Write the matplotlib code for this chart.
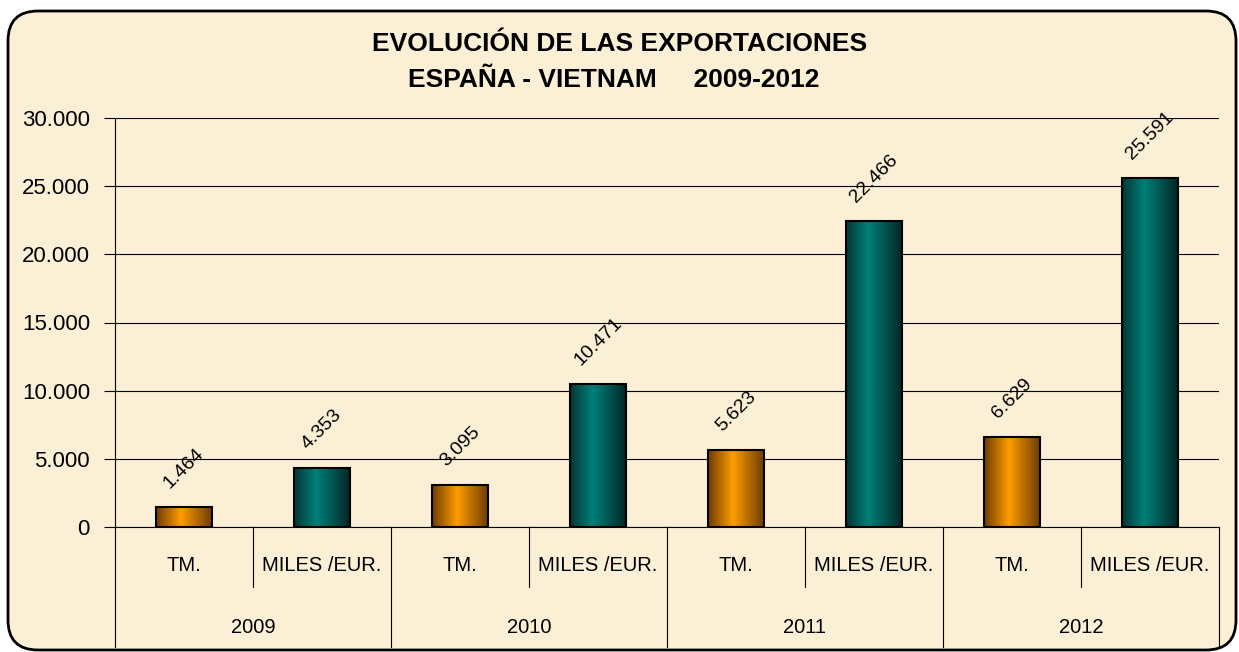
import numpy as np
import matplotlib.pyplot as plt
import matplotlib.transforms as mtransforms
from matplotlib.patches import FancyBboxPatch
from matplotlib.colors import LinearSegmentedColormap

# data
years = ["2009", "2010", "2011", "2012"]
units = ["TM.", "MILES /EUR."]
tm = [1464, 3095, 5623, 6629]
miles_eur = [4353, 10471, 22466, 25591]
yticks = [0, 5000, 10000, 15000, 20000, 25000, 30000]
ytick_labels = ["0", "5.000", "10.000", "15.000", "20.000", "25.000", "30.000"]

plt.rcParams['font.family'] = ['Liberation Sans', 'DejaVu Sans']

cream = "#FBEFD5"
fig = plt.figure(figsize=(12.39, 6.52), dpi=100, facecolor="white")

# rounded frame around the whole chart
frame = FancyBboxPatch((8, 2), 1228, 639, boxstyle="round,pad=0,rounding_size=30",
                       transform=mtransforms.IdentityTransform(),
                       facecolor=cream, edgecolor="black", linewidth=2, zorder=-5)
fig.patches.append(frame)

ax = fig.add_axes([115 / 1239, 1 - 527 / 652, (1219 - 115) / 1239, (527 - 118) / 652])
ax.set_facecolor("none")

vals = []
cats = []
for i, y in enumerate(years):
    vals += [tm[i], miles_eur[i]]
    cats += units
x = np.arange(len(vals))
w = 0.4

orange = LinearSegmentedColormap.from_list("o", [(0, "#6E3C00"), (0.45, "#FF9C00"), (1, "#6E3C00")])
teal = LinearSegmentedColormap.from_list("t", [(0, "#053434"), (0.4, "#008078"), (1, "#022626")])
grad = np.linspace(0, 1, 256).reshape(1, -1)

bars = ax.bar(x, vals, w, color="none", zorder=3)
for i, b in enumerate(bars):
    cmap = orange if i % 2 == 0 else teal
    im = ax.imshow(grad, extent=[b.get_x(), b.get_x() + b.get_width(), 0, b.get_height()],
                   aspect="auto", cmap=cmap, zorder=3)
    im.set_clip_path(b)
ax.bar(x, vals, w, facecolor="none", edgecolor="black", linewidth=1.5, zorder=4)

for xi, v in zip(x, vals):
    ax.annotate(f"{v:,}".replace(",", "."), (xi, v), xytext=(0, 11), textcoords="offset points",
                rotation=45, ha="center", va="bottom", fontsize=14)

ax.set_xlim(-0.5, len(vals) - 0.5)
ax.set_ylim(0, 30000)
ax.set_yticks(yticks)
ax.set_yticklabels(ytick_labels, fontsize=16)
ax.tick_params(axis="y", direction="out", length=8, width=0.8, pad=10)
ax.set_xticks([])
ax.yaxis.grid(True, color="black", linewidth=0.8)
ax.set_axisbelow(True)
for s in ["top", "right"]:
    ax.spines[s].set_visible(False)
ax.spines["left"].set_linewidth(0.8)
ax.spines["bottom"].set_linewidth(0.8)

# two-level category axis
trans = mtransforms.blended_transform_factory(ax.transData, ax.transAxes)
for xi, c in zip(x, cats):
    ax.text(xi, -0.093, c, transform=trans, ha="center", va="center", fontsize=14.5)
for i, y in enumerate(years):
    ax.text(2 * i + 0.5, -0.245, y, transform=trans, ha="center", va="center", fontsize=14.5)
for i in range(len(years)):
    ax.plot([2 * i + 0.5] * 2, [0, -0.147], transform=trans, color="black", lw=0.8, clip_on=False)
for i in range(len(years) + 1):
    ax.plot([2 * i - 0.5] * 2, [0, -0.293], transform=trans, color="black", lw=0.8, clip_on=False)

fig.text(0.5, 1 - 44 / 652, "EVOLUCIÓN DE LAS EXPORTACIONES", ha="center", va="center",
         fontsize=19, fontweight="bold")
fig.text(0.495, 1 - 80 / 652, "ESPAÑA - VIETNAM     2009-2012", ha="center", va="center",
         fontsize=19, fontweight="bold")

fig.savefig("out.png", dpi=100, facecolor="white")
